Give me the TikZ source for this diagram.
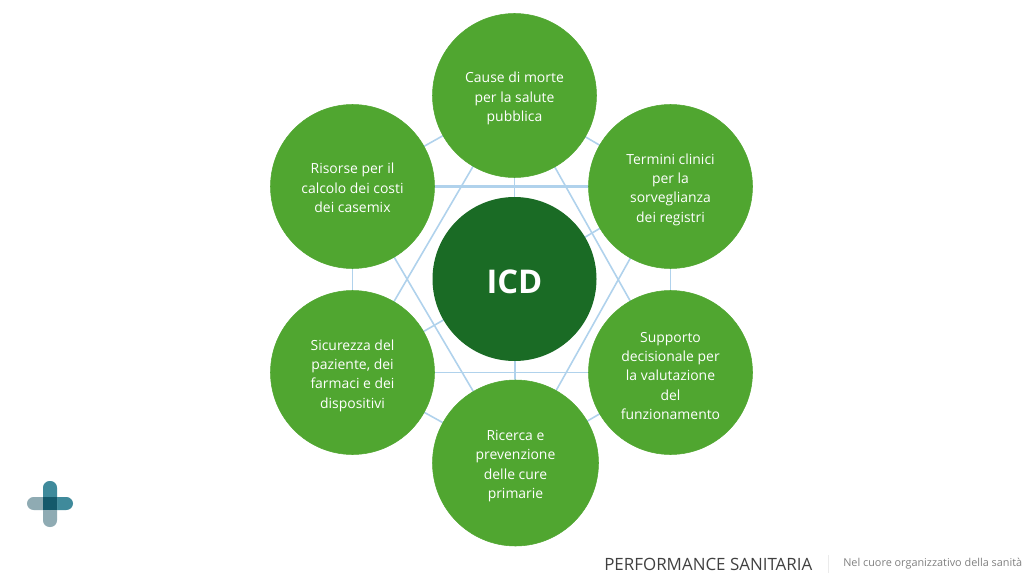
\documentclass[tikz,border=0pt]{standalone}
\usepackage{fontspec}
\setmainfont{Open Sans}
\usetikzlibrary{backgrounds}
\definecolor{midgreen}{HTML}{50A630}
\definecolor{darkgreen}{HTML}{1A6B25}
\definecolor{linkblue}{HTML}{B0D2EC}
\definecolor{logoteal}{HTML}{3F8A9B}
\definecolor{logogrey}{HTML}{8FABB3}
\definecolor{logodark}{HTML}{14596B}
\newcommand{\drop}{\rule{0pt}{12.4pt}}
\newcommand{\dropless}{\rule{0pt}{10pt}}
\tikzset{
  x=0.75pt,y=-0.75pt,
  topic/.style={circle,fill=midgreen,draw=midgreen,line width=0.4pt,minimum size=123pt,inner sep=0pt,align=center,text=white,font=\fontsize{10.45}{14.5}\selectfont},
  hub/.style={circle,fill=darkgreen,minimum size=123pt,inner sep=0pt,text=white,text height=21.5pt,text depth=0pt,font=\fontsize{24.5}{30}\selectfont\bfseries},
  link/.style={draw=linkblue,line width=1.2pt},
  boldlink/.style={draw=linkblue,line width=1.9pt}
}
\begin{document}
\begin{tikzpicture}
\useasboundingbox (0,0) rectangle (1024,574);
\node[hub] (icd) at (514.5,279) {ICD};
\node[topic] (t) at (514.5,95.5) {\drop Cause di morte\\per la salute\\pubblica};
\node[topic] (ur) at (670.5,186.5) {\drop Termini clinici\\per la\\sorveglianza\\dei registri};
\node[topic] (lr) at (670.5,372.5) {\drop Supporto\\decisionale per\\la valutazione\\del\\funzionamento};
\node[topic,minimum size=124.5pt] (b) at (515.5,463) {\drop Ricerca e\\prevenzione\\delle cure\\primarie};
\node[topic] (ll) at (352.5,372.5) {\drop Sicurezza del\\paziente, dei\\farmaci e dei\\dispositivi};
\node[topic] (ul) at (352.5,186.5) {\dropless Risorse per il\\calcolo dei costi\\dei casemix};
\begin{scope}[on background layer]
  \foreach \a/\c in {t/ur,ur/lr,lr/b,b/ll,ll/ul,ul/t,t/ll,t/lr,ll/lr,ul/b,ur/b,icd/t,icd/ur,icd/b,icd/ll}
    \draw[link] (\a.center) -- (\c.center);
  \draw[boldlink] (ul.center) -- (ur.center);
\end{scope}
% logo
\fill[logogrey,rounded corners=5pt] (27,497) rectangle (60,510);
\fill[logoteal,rounded corners=5pt] (43,497) rectangle (73,510);
\fill[logogrey,rounded corners=5pt] (43,490) rectangle (57,527);
\fill[logoteal,rounded corners=5pt] (43,481) rectangle (57,510);
\fill[logodark] (43,497) rectangle (57,510);
% footer
\node[anchor=west,inner sep=0pt,text=black!75,font=\fontsize{12.7}{15}\selectfont] (brand) at (604,564.5) {PERFORMANCE SANITARIA};
\draw[black!8,line width=0.5pt] (828,555) -- (828,573);
\node[anchor=west,inner sep=0pt,text=black!50,font=\fontsize{8.15}{11}\selectfont] (tag) at (843,563.5) {Nel cuore organizzativo della sanità};
\end{tikzpicture}
\end{document}
